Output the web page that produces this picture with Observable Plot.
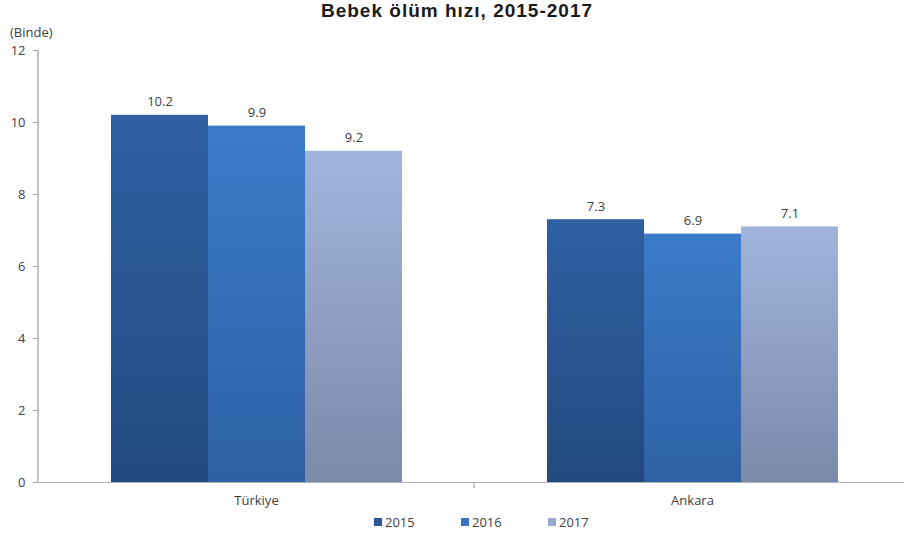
<!DOCTYPE html>
<html><head><meta charset="utf-8">
<script src="https://cdn.jsdelivr.net/npm/d3@7"></script>
<script src="https://cdn.jsdelivr.net/npm/@observablehq/plot@0.6"></script>
<style>
body{margin:0;background:#fff;width:904px;height:538px;overflow:hidden;position:relative;font-family:"Open Sans",sans-serif;}
#title{position:absolute;left:0;width:914px;top:0px;text-align:center;font-family:"Liberation Sans",Arial,sans-serif;font-weight:700;font-size:19px;letter-spacing:1px;line-height:22px;color:#1a1a1a;white-space:nowrap;z-index:2}
#unit{position:absolute;left:10px;top:25px;font-size:13px;line-height:14px;color:#404040;z-index:2}
#chart{position:absolute;left:0;top:26px;z-index:1}
#legend{position:absolute;left:374px;top:514px;display:flex;font-size:13px;line-height:16px;color:#404040;z-index:2}
.item{width:87px;display:flex;align-items:center}
.sw{width:8px;height:8px;margin-right:3px}
</style>
</head><body>
<div id="chart"></div>
<div id="title">Bebek ölüm hızı, 2015-2017</div>
<div id="unit">(Binde)</div>
<div id="legend"></div>
<script>
const categories = ["Türkiye", "Ankara"];
const years = ["2015", "2016", "2017"];
const turkiyeValues = [10.2, 9.9, 9.2];
const ankaraValues = [7.3, 6.9, 7.1];
const yTicks = [0, 2, 4, 6, 8, 10, 12];

const gradTop = {"2015": "#2e60a2", "2016": "#3b7bca", "2017": "#a1b5db"};
const gradBottom = {"2015": "#234a80", "2016": "#2d61a3", "2017": "#7b89aa"};
const legendColors = {"2015": "#2b5894", "2016": "#3a72bb", "2017": "#98a9cf"};

const seriesByCategory = {"Türkiye": turkiyeValues, "Ankara": ankaraValues};
const data = [];
for (const c of categories) years.forEach((y, i) => data.push({category: c, year: y, value: seriesByCategory[c][i]}));

const plot = Plot.plot({
  width: 910,
  height: 488,
  marginLeft: 38,
  marginRight: 0,
  marginTop: 24,
  marginBottom: 32,
  style: {fontFamily: "'Open Sans', sans-serif", fontSize: "13px", color: "#404040", background: "#fff", maxWidth: "none"},
  fx: {domain: categories, padding: 0, axis: "bottom", tickSize: 0, tickPadding: 13, label: null},
  x: {domain: years, axis: null, paddingInner: 0, paddingOuter: 0.74},
  y: {domain: [0, 12], axis: null},
  color: {domain: years, range: years.map(y => `url(#grad${y})`)},
  marks: [
    Plot.axisY({ticks: yTicks, tickSize: 5, tickPadding: 8, stroke: "#a6a6a6", fill: "#404040", label: null, fontSize: 13}),
    Plot.barY(data, {fx: "category", x: "year", y: "value", fill: "year"}),
    Plot.ruleY([0], {stroke: "#b0b0b0"}),
    Plot.text(data, {fx: "category", x: "year", y: "value", text: d => d.value.toFixed(1), dy: -13, fill: "#404040", fontSize: 13})
  ]
});
plot.style.maxWidth = "none";
plot.style.width = "910px";
plot.style.height = "488px";

// gradients
const ns = "http://www.w3.org/2000/svg";
const defs = document.createElementNS(ns, "defs");
for (const y of years) {
  const g = document.createElementNS(ns, "linearGradient");
  g.setAttribute("id", "grad" + y);
  g.setAttribute("x1", "0"); g.setAttribute("y1", "0"); g.setAttribute("x2", "0"); g.setAttribute("y2", "1");
  const s1 = document.createElementNS(ns, "stop"); s1.setAttribute("offset", "0"); s1.setAttribute("stop-color", gradTop[y]);
  const s2 = document.createElementNS(ns, "stop"); s2.setAttribute("offset", "1"); s2.setAttribute("stop-color", gradBottom[y]);
  g.appendChild(s1); g.appendChild(s2); defs.appendChild(g);
}
plot.insertBefore(defs, plot.firstChild);

// y axis line and category separator tick
const ys = plot.scale("y");
const fxs = plot.scale("fx");
const yApply = ys.apply ? ys.apply : d3.scaleLinear(ys.domain, ys.range);
const fxApply = fxs.apply ? fxs.apply : d3.scaleBand(fxs.domain, fxs.range);
const y0 = yApply(0), yTop = yApply(12);
const addLine = (x1, y1, x2, y2) => {
  const l = document.createElementNS(ns, "line");
  l.setAttribute("x1", x1); l.setAttribute("y1", y1); l.setAttribute("x2", x2); l.setAttribute("y2", y2);
  l.setAttribute("stroke", "#b0b0b0"); l.setAttribute("stroke-width", "1.5");
  plot.appendChild(l);
};
addLine(38, yTop, 38, y0);
addLine(fxApply(categories[1]), y0, fxApply(categories[1]), y0 + 6);

document.getElementById("chart").appendChild(plot);

// legend
const legend = document.getElementById("legend");
for (const y of years) {
  const it = document.createElement("div"); it.className = "item";
  const sw = document.createElement("div"); sw.className = "sw"; sw.style.background = legendColors[y];
  const t = document.createElement("span"); t.textContent = y;
  it.appendChild(sw); it.appendChild(t); legend.appendChild(it);
}
</script>
</body></html>
